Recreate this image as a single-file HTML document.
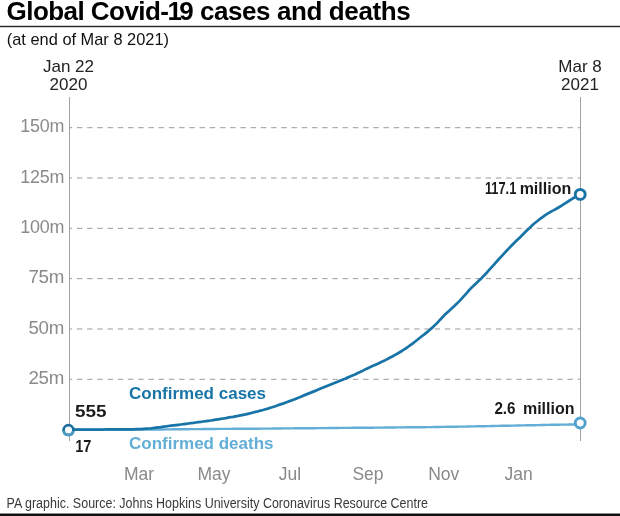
<!DOCTYPE html>
<html><head><meta charset="utf-8">
<style>
html,body{margin:0;padding:0;background:#fff;}
body{width:620px;height:516px;overflow:hidden;position:relative;}
svg{position:absolute;left:0;top:0;}
text{font-family:"Liberation Sans",sans-serif;}
.title{font-weight:bold;font-size:26px;fill:#000;letter-spacing:-0.55px;}
.sub{font-size:16.4px;fill:#111;letter-spacing:0px;}
.grid{stroke:#9a9a9a;stroke-width:1;stroke-dasharray:5.4 4.82;stroke-dashoffset:3.3;}
.ylab{font-size:17.5px;fill:#8a8a8a;text-anchor:end;letter-spacing:-0.2px;}
.mlab{font-size:17.5px;fill:#8a8a8a;text-anchor:middle;}
.dlab{font-size:17px;fill:#222;text-anchor:middle;}
.blab{font-size:16px;font-weight:bold;fill:#1a1a1a;}
.foot{font-size:14px;fill:#3a3a3a;}
</style></head><body>
<svg width="620" height="516" viewBox="0 0 620 516">
<text x="6.6" y="19.7" class="title">Global Covid<tspan style="letter-spacing:-1.6px">-</tspan><tspan style="letter-spacing:-2.6px">1</tspan>9 <tspan style="letter-spacing:-0.4px">cases and deaths</tspan></text>
<rect x="0" y="25.8" width="620" height="1.4" fill="#222"/>
<text x="6.8" y="44.8" class="sub">(at end of Mar 8 2021)</text>
<text x="68.5" y="72.3" class="dlab">Jan 22</text>
<text x="68.5" y="89.6" class="dlab">2020</text>
<text x="580" y="72.3" class="dlab">Mar 8</text>
<text x="580" y="89.6" class="dlab">2021</text>
<line x1="70" y1="379.28" x2="580" y2="379.28" class="grid"/>
<line x1="70" y1="328.97" x2="580" y2="328.97" class="grid"/>
<line x1="70" y1="278.65" x2="580" y2="278.65" class="grid"/>
<line x1="70" y1="228.33" x2="580" y2="228.33" class="grid"/>
<line x1="70" y1="178.01" x2="580" y2="178.01" class="grid"/>
<line x1="70" y1="127.69" x2="580" y2="127.69" class="grid"/>

<line x1="69.5" y1="97" x2="69.5" y2="441" stroke="#a2a2a2" stroke-width="1"/>
<line x1="580.5" y1="97" x2="580.5" y2="441" stroke="#a2a2a2" stroke-width="1"/>
<text x="64.2" y="383.8" class="ylab" textLength="35.8" lengthAdjust="spacingAndGlyphs">25m</text>
<text x="64.2" y="333.5" class="ylab" textLength="35.8" lengthAdjust="spacingAndGlyphs">50m</text>
<text x="64.2" y="283.1" class="ylab" textLength="35.8" lengthAdjust="spacingAndGlyphs">75m</text>
<text x="64.2" y="232.8" class="ylab" textLength="44" lengthAdjust="spacingAndGlyphs">100m</text>
<text x="64.2" y="182.5" class="ylab" textLength="44" lengthAdjust="spacingAndGlyphs">125m</text>
<text x="64.2" y="132.2" class="ylab" textLength="44" lengthAdjust="spacingAndGlyphs">150m</text>

<text x="139" y="479.8" class="mlab">Mar</text>
<text x="214" y="479.8" class="mlab">May</text>
<text x="290" y="479.8" class="mlab">Jul</text>
<text x="368" y="479.8" class="mlab">Sep</text>
<text x="443.7" y="479.8" class="mlab">Nov</text>
<text x="518.7" y="479.8" class="mlab">Jan</text>

<path d="M69.0,429.6 L71.5,429.6 L74.0,429.6 L76.5,429.6 L78.9,429.6 L81.4,429.6 L83.9,429.6 L86.4,429.6 L88.9,429.6 L91.4,429.6 L93.9,429.6 L96.4,429.6 L98.8,429.6 L101.3,429.6 L103.8,429.6 L106.3,429.6 L108.8,429.6 L111.3,429.6 L113.8,429.6 L116.2,429.6 L118.7,429.6 L121.2,429.6 L123.7,429.6 L126.2,429.6 L128.7,429.6 L131.2,429.6 L133.7,429.6 L136.1,429.6 L138.6,429.6 L141.1,429.6 L143.6,429.6 L146.1,429.5 L148.6,429.5 L151.1,429.5 L153.5,429.5 L156.0,429.5 L158.5,429.5 L161.0,429.5 L163.5,429.5 L166.0,429.4 L168.5,429.4 L171.0,429.4 L173.4,429.3 L175.9,429.3 L178.4,429.3 L180.9,429.3 L183.4,429.2 L185.9,429.2 L188.4,429.2 L190.8,429.1 L193.3,429.1 L195.8,429.1 L198.3,429.1 L200.8,429.1 L203.3,429.0 L205.8,429.0 L208.3,429.0 L210.7,429.0 L213.2,429.0 L215.7,429.0 L218.2,428.9 L220.7,428.9 L223.2,428.9 L225.7,428.9 L228.1,428.9 L230.6,428.9 L233.1,428.8 L235.6,428.8 L238.1,428.8 L240.6,428.8 L243.1,428.8 L245.5,428.7 L248.0,428.7 L250.5,428.7 L253.0,428.7 L255.5,428.7 L258.0,428.7 L260.5,428.6 L263.0,428.6 L265.4,428.6 L267.9,428.6 L270.4,428.6 L272.9,428.5 L275.4,428.5 L277.9,428.5 L280.4,428.5 L282.8,428.4 L285.3,428.4 L287.8,428.4 L290.3,428.4 L292.8,428.4 L295.3,428.3 L297.8,428.3 L300.3,428.3 L302.7,428.3 L305.2,428.3 L307.7,428.2 L310.2,428.2 L312.7,428.2 L315.2,428.2 L317.7,428.1 L320.1,428.1 L322.6,428.1 L325.1,428.1 L327.6,428.1 L330.1,428.0 L332.6,428.0 L335.1,428.0 L337.6,428.0 L340.0,427.9 L342.5,427.9 L345.0,427.9 L347.5,427.9 L350.0,427.9 L352.5,427.8 L355.0,427.8 L357.4,427.8 L359.9,427.8 L362.4,427.7 L364.9,427.7 L367.4,427.7 L369.9,427.7 L372.4,427.7 L374.9,427.6 L377.3,427.6 L379.8,427.6 L382.3,427.6 L384.8,427.5 L387.3,427.5 L389.8,427.5 L392.3,427.5 L394.7,427.5 L397.2,427.4 L399.7,427.4 L402.2,427.4 L404.7,427.4 L407.2,427.3 L409.7,427.3 L412.2,427.3 L414.6,427.3 L417.1,427.2 L419.6,427.2 L422.1,427.2 L424.6,427.2 L427.1,427.1 L429.6,427.1 L432.0,427.1 L434.5,427.0 L437.0,427.0 L439.5,427.0 L442.0,426.9 L444.5,426.9 L447.0,426.8 L449.5,426.8 L451.9,426.8 L454.4,426.7 L456.9,426.7 L459.4,426.6 L461.9,426.6 L464.4,426.6 L466.9,426.5 L469.3,426.5 L471.8,426.4 L474.3,426.4 L476.8,426.3 L479.3,426.3 L481.8,426.2 L484.3,426.2 L486.8,426.1 L489.2,426.1 L491.7,426.0 L494.2,426.0 L496.7,425.9 L499.2,425.9 L501.7,425.8 L504.2,425.8 L506.6,425.7 L509.1,425.7 L511.6,425.6 L514.1,425.6 L516.6,425.5 L519.1,425.5 L521.6,425.4 L524.1,425.4 L526.5,425.3 L529.0,425.3 L531.5,425.2 L534.0,425.2 L536.5,425.1 L539.0,425.1 L541.5,425.0 L543.9,425.0 L546.4,424.9 L548.9,424.9 L551.4,424.8 L553.9,424.8 L556.4,424.7 L558.9,424.7 L561.4,424.6 L563.8,424.6 L566.3,424.6 L568.8,424.5 L571.3,424.5 L573.8,424.5 L576.3,424.4 L578.8,424.4 L580.0,424.4" fill="none" stroke="#62aed6" stroke-width="2.4" stroke-linejoin="round"/>
<path d="M69.0,429.6 L71.5,429.6 L74.0,429.6 L76.5,429.6 L78.9,429.6 L81.4,429.6 L83.9,429.6 L86.4,429.6 L88.9,429.5 L91.4,429.5 L93.9,429.5 L96.4,429.5 L98.8,429.5 L101.3,429.5 L103.8,429.5 L106.3,429.4 L108.8,429.4 L111.3,429.4 L113.8,429.4 L116.2,429.4 L118.7,429.4 L121.2,429.4 L123.7,429.4 L126.2,429.4 L128.7,429.4 L131.2,429.3 L133.7,429.3 L136.1,429.2 L138.6,429.1 L141.1,429.1 L143.6,428.9 L146.1,428.7 L148.6,428.5 L151.1,428.3 L153.5,428.0 L156.0,427.7 L158.5,427.4 L161.0,427.1 L163.5,426.7 L166.0,426.4 L168.5,426.0 L171.0,425.7 L173.4,425.4 L175.9,425.1 L178.4,424.8 L180.9,424.5 L183.4,424.2 L185.9,423.8 L188.4,423.5 L190.8,423.2 L193.3,422.9 L195.8,422.5 L198.3,422.2 L200.8,421.9 L203.3,421.5 L205.8,421.2 L208.3,420.8 L210.7,420.5 L213.2,420.1 L215.7,419.7 L218.2,419.3 L220.7,418.9 L223.2,418.5 L225.7,418.1 L228.1,417.6 L230.6,417.2 L233.1,416.8 L235.6,416.3 L238.1,415.9 L240.6,415.4 L243.1,414.9 L245.5,414.4 L248.0,413.8 L250.5,413.2 L253.0,412.5 L255.5,411.9 L258.0,411.3 L260.5,410.6 L263.0,410.0 L265.4,409.3 L267.9,408.6 L270.4,407.8 L272.9,407.0 L275.4,406.2 L277.9,405.3 L280.4,404.4 L282.8,403.6 L285.3,402.7 L287.8,401.8 L290.3,400.9 L292.8,400.0 L295.3,399.0 L297.8,398.0 L300.3,397.0 L302.7,395.9 L305.2,394.9 L307.7,393.9 L310.2,392.9 L312.7,391.9 L315.2,390.9 L317.7,389.8 L320.1,388.8 L322.6,387.8 L325.1,386.8 L327.6,385.8 L330.1,384.8 L332.6,383.8 L335.1,382.8 L337.6,381.8 L340.0,380.8 L342.5,379.7 L345.0,378.7 L347.5,377.6 L350.0,376.6 L352.5,375.5 L355.0,374.4 L357.4,373.2 L359.9,372.1 L362.4,370.9 L364.9,369.6 L367.4,368.4 L369.9,367.2 L372.4,366.1 L374.9,365.0 L377.3,363.9 L379.8,362.7 L382.3,361.6 L384.8,360.4 L387.3,359.1 L389.8,357.8 L392.3,356.5 L394.7,355.1 L397.2,353.7 L399.7,352.2 L402.2,350.7 L404.7,349.1 L407.2,347.5 L409.7,345.7 L412.2,343.9 L414.6,342.0 L417.1,340.0 L419.6,338.0 L422.1,336.0 L424.6,334.1 L427.1,332.1 L429.6,330.0 L432.0,327.9 L434.5,325.6 L437.0,323.1 L439.5,320.4 L442.0,317.7 L444.5,315.1 L447.0,312.7 L449.5,310.4 L451.9,308.2 L454.4,305.9 L456.9,303.6 L459.4,301.1 L461.9,298.4 L464.4,295.6 L466.9,292.8 L469.3,290.0 L471.8,287.4 L474.3,285.0 L476.8,282.7 L479.3,280.3 L481.8,277.9 L484.3,275.3 L486.8,272.7 L489.2,269.9 L491.7,267.1 L494.2,264.3 L496.7,261.5 L499.2,258.8 L501.7,256.1 L504.2,253.3 L506.6,250.7 L509.1,248.1 L511.6,245.5 L514.1,243.0 L516.6,240.6 L519.1,238.2 L521.6,235.8 L524.1,233.3 L526.5,230.8 L529.0,228.4 L531.5,226.0 L534.0,223.7 L536.5,221.7 L539.0,219.7 L541.5,217.9 L543.9,216.1 L546.4,214.4 L548.9,212.9 L551.4,211.4 L553.9,210.1 L556.4,208.7 L558.9,207.3 L561.4,205.8 L563.8,204.2 L566.3,202.6 L568.8,201.0 L571.3,199.4 L573.8,197.8 L576.3,196.2 L578.8,194.7 L580.0,193.9" fill="none" stroke="#1874a6" stroke-width="2.75" stroke-linejoin="round"/>
<circle cx="68.5" cy="430.1" r="4.9" fill="#fff" stroke="#1a6f9e" stroke-width="2.7"/>
<path d="M63.67,430.95 A4.9,4.9 0 0 0 73.33,430.95" fill="none" stroke="#4d9cc3" stroke-width="2.7"/>
<circle cx="580.2" cy="194.4" r="4.95" fill="#fff" stroke="#1874a6" stroke-width="2.9"/>
<circle cx="580.2" cy="423.0" r="4.95" fill="#fff" stroke="#52a2cd" stroke-width="2.9"/>
<text x="129" y="398.7" style="font-size:17px;font-weight:bold;fill:#1874a6">Confirmed cases</text>
<text x="129" y="448.5" style="font-size:17px;font-weight:bold;fill:#62aed6">Confirmed deaths</text>
<text x="75.1" y="417.0" class="blab" style="font-size:16.5px" textLength="31.5" lengthAdjust="spacingAndGlyphs">555</text>
<text x="75.2" y="452.1" class="blab" textLength="16.2" lengthAdjust="spacingAndGlyphs">17</text>
<text x="484.9" y="194.2" class="blab" textLength="31.4" lengthAdjust="spacingAndGlyphs">117.1</text><text x="571.2" y="194.2" class="blab" style="text-anchor:end">million</text>
<text x="494.4" y="413.6" class="blab" textLength="21.2" lengthAdjust="spacingAndGlyphs">2.6</text><text x="574.5" y="413.6" class="blab" style="text-anchor:end">million</text>
<text x="6.5" y="507.6" class="foot" textLength="421.5" lengthAdjust="spacingAndGlyphs">PA graphic. Source: Johns Hopkins University Coronavirus Resource Centre</text>
<rect x="0" y="513.5" width="620" height="2.5" fill="#111"/>
</svg>
</body></html>
